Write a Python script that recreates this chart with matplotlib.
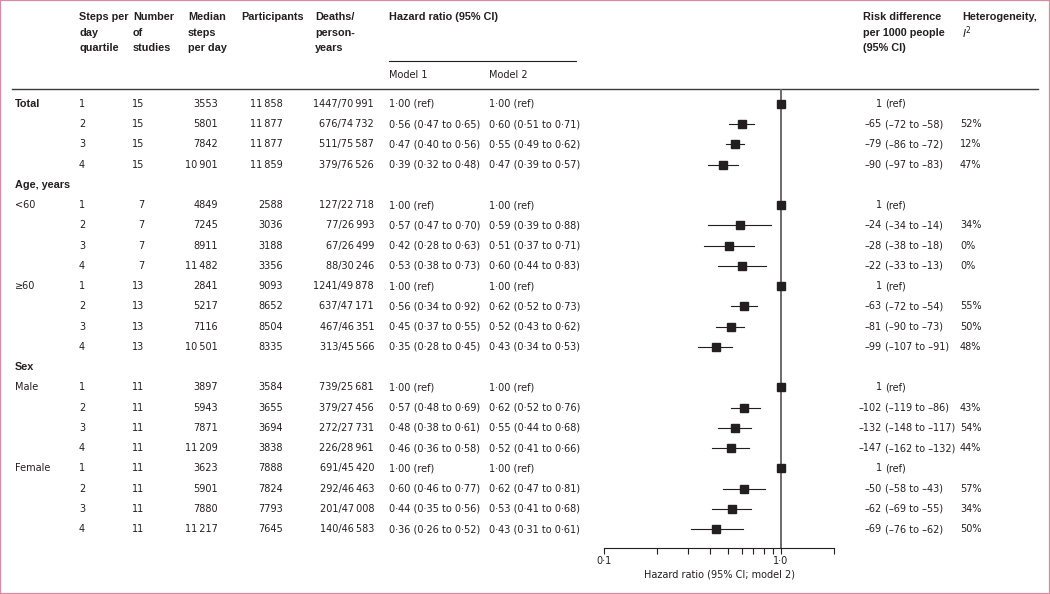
import matplotlib.pyplot as plt
import numpy as np
from matplotlib.patches import Rectangle
from matplotlib.ticker import NullFormatter

plt.rcParams['font.family'] = 'DejaVu Sans'
plt.rcParams['font.size'] = 7
ink = '#231f20'
nan = np.nan

# ---- data ----
subgroups = ["Total", "<60", "\u226560", "Male", "Female"]
sections = ["", "Age, years", "", "Sex", ""]
quartiles = [1, 2, 3, 4]
n_studies = [15, 7, 13, 11, 11]
median_steps = [[3553, 5801, 7842, 10901],
                [4849, 7245, 8911, 11482],
                [2841, 5217, 7116, 10501],
                [3897, 5943, 7871, 11209],
                [3623, 5901, 7880, 11217]]
participants = [[11858, 11877, 11877, 11859],
                [2588, 3036, 3188, 3356],
                [9093, 8652, 8504, 8335],
                [3584, 3655, 3694, 3838],
                [7888, 7824, 7793, 7645]]
deaths = [[1447, 676, 511, 379],
          [127, 77, 67, 88],
          [1241, 637, 467, 313],
          [739, 379, 272, 226],
          [691, 292, 201, 140]]
person_years = [[70991, 74732, 75587, 76526],
                [22718, 26993, 26499, 30246],
                [49878, 47171, 46351, 45566],
                [25681, 27456, 27731, 28961],
                [45420, 46463, 47008, 46583]]
# model 1 hazard ratios
hr1 = [[1.00, 0.56, 0.47, 0.39],
       [1.00, 0.57, 0.42, 0.53],
       [1.00, 0.56, 0.45, 0.35],
       [1.00, 0.57, 0.48, 0.46],
       [1.00, 0.60, 0.44, 0.36]]
hr1_lo = [[nan, 0.47, 0.40, 0.32],
          [nan, 0.47, 0.28, 0.38],
          [nan, 0.34, 0.37, 0.28],
          [nan, 0.48, 0.38, 0.36],
          [nan, 0.46, 0.35, 0.26]]
hr1_hi = [[nan, 0.65, 0.56, 0.48],
          [nan, 0.70, 0.63, 0.73],
          [nan, 0.92, 0.55, 0.45],
          [nan, 0.69, 0.61, 0.58],
          [nan, 0.77, 0.56, 0.52]]
# model 2 hazard ratios (plotted)
hr2 = [[1.00, 0.60, 0.55, 0.47],
       [1.00, 0.59, 0.51, 0.60],
       [1.00, 0.62, 0.52, 0.43],
       [1.00, 0.62, 0.55, 0.52],
       [1.00, 0.62, 0.53, 0.43]]
hr2_lo = [[nan, 0.51, 0.49, 0.39],
          [nan, 0.39, 0.37, 0.44],
          [nan, 0.52, 0.43, 0.34],
          [nan, 0.52, 0.44, 0.41],
          [nan, 0.47, 0.41, 0.31]]
hr2_hi = [[nan, 0.71, 0.62, 0.57],
          [nan, 0.88, 0.71, 0.83],
          [nan, 0.73, 0.62, 0.53],
          [nan, 0.76, 0.68, 0.66],
          [nan, 0.81, 0.68, 0.61]]
# risk difference per 1000 people
rd = [[1, -65, -79, -90],
      [1, -24, -28, -22],
      [1, -63, -81, -99],
      [1, -102, -132, -147],
      [1, -50, -62, -69]]
rd_lo = [[None, -72, -86, -97],
         [None, -34, -38, -33],
         [None, -72, -90, -107],
         [None, -119, -148, -162],
         [None, -58, -69, -76]]
rd_hi = [[None, -58, -72, -83],
         [None, -14, -18, -13],
         [None, -54, -73, -91],
         [None, -86, -117, -132],
         [None, -43, -55, -62]]
i2 = [[None, 52, 12, 47],
      [None, 34, 0, 0],
      [None, 55, 50, 48],
      [None, 43, 54, 44],
      [None, 57, 34, 50]]


def num(n):
    s = str(n)
    return s if len(s) < 5 else s[:-3] + '\u2009' + s[-3:]


def dec(v):
    return f"{v:.2f}".replace('.', '\u00b7')


def hr_text(v, lo, hi):
    if np.isnan(lo):
        return dec(v) + " (ref)"
    return f"{dec(v)} ({dec(lo)} to {dec(hi)})"


def neg(n):
    return str(n).replace('-', '\u2013')


fig = plt.figure(figsize=(10.5, 5.94), dpi=100)
tab = fig.add_axes([0, 0, 1, 1])
tab.set_xlim(0, 1050)
tab.set_ylim(594, 0)
tab.axis('off')

fst = fig.add_axes([604 / 1050, (594 - 548) / 594, 230 / 1050, (548 - 89) / 594])
fst.patch.set_alpha(0)
fst.set_xscale('log')
fst.set_xlim(0.1, 2.0)
fst.set_ylim(548, 89)

# headers
hfont = dict(family='Liberation Sans', weight='bold', fontsize=7.8, color=ink)
headers = [(79, ["Steps per", "day", "quartile"]),
           (133, ["Number", "of", "studies"]),
           (188, ["Median", "steps", "per day"]),
           (241, ["Participants"]),
           (315, ["Deaths/", "person-", "years"]),
           (389, ["Hazard ratio (95% CI)"]),
           (863, ["Risk difference", "per 1000 people", "(95% CI)"]),
           (962, ["Heterogeneity,", "$I^2$"])]
for x, lines in headers:
    for k, t in enumerate(lines):
        tab.text(x, 17 + 15.5 * k, t, ha='left', va='center', **hfont)
tab.text(389, 75, "Model 1", ha='left', va='center', color=ink)
tab.text(489, 75, "Model 2", ha='left', va='center', color=ink)
tab.plot([389, 576], [61, 61], color=ink, lw=0.8)
tab.plot([12, 1038], [89, 89], color='#3a3a3a', lw=1.0)

# rows
y0, dy = 104, 20.24
row = 0
for g, name in enumerate(subgroups):
    if sections[g]:
        tab.text(15, y0 + row * dy, sections[g], ha='left', va='center', **hfont)
        row += 1
    for q in range(4):
        y = y0 + row * dy
        if q == 0:
            if g == 0:
                tab.text(15, y, name, ha='left', va='center', **hfont)
            else:
                tab.text(15, y, name, ha='left', va='center', color=ink)
        tab.text(79, y, str(quartiles[q]), ha='left', va='center', color=ink)
        tab.text(144, y, str(n_studies[g]), ha='right', va='center', color=ink)
        tab.text(218, y, num(median_steps[g][q]), ha='right', va='center', color=ink)
        tab.text(283, y, num(participants[g][q]), ha='right', va='center', color=ink)
        tab.text(374, y, f"{num(deaths[g][q])}/{num(person_years[g][q])}",
                 ha='right', va='center', color=ink)
        tab.text(389, y, hr_text(hr1[g][q], hr1_lo[g][q], hr1_hi[g][q]),
                 ha='left', va='center', color=ink)
        tab.text(489, y, hr_text(hr2[g][q], hr2_lo[g][q], hr2_hi[g][q]),
                 ha='left', va='center', color=ink)
        tab.text(882, y, neg(rd[g][q]), ha='right', va='center', color=ink)
        if rd_lo[g][q] is None:
            ci = "(ref)"
        else:
            ci = f"({neg(rd_lo[g][q])} to {neg(rd_hi[g][q])})"
        tab.text(885, y, ci, ha='left', va='center', color=ink)
        if i2[g][q] is not None:
            tab.text(960, y, f"{i2[g][q]}%", ha='left', va='center', color=ink)

        # forest marks
        if not np.isnan(hr2_lo[g][q]):
            fst.plot([hr2_lo[g][q], hr2_hi[g][q]], [y, y], color=ink, lw=0.8)
        fst.plot(hr2[g][q], y, 's', ms=6.4, color=ink, mec=ink)
        row += 1

fst.axvline(1.0, color='#6b6b6b', lw=1.4, zorder=0)
for s in ['left', 'top', 'right']:
    fst.spines[s].set_visible(False)
fst.spines['bottom'].set_color(ink)
fst.spines['bottom'].set_linewidth(0.8)
fst.set_yticks([])
fst.set_xticks([0.1, 1.0])
fst.set_xticklabels(["0\u00b71", "1\u00b70"])
fst.set_xticks([0.2, 0.3, 0.4, 0.5, 0.6, 0.7, 0.8, 0.9, 2.0], minor=True)
fst.xaxis.set_minor_formatter(NullFormatter())
fst.tick_params(axis='x', which='both', direction='out', length=4, width=0.8,
                color=ink, labelcolor=ink, pad=1.5, labelsize=7)
fst.set_xlabel("Hazard ratio (95% CI; model 2)", color=ink, fontsize=7, labelpad=3)

fig.patches.append(Rectangle((0, 0), 1, 1, transform=fig.transFigure, fill=False,
                             edgecolor='#d98aa2', lw=1.6))

fig.savefig('out.png', dpi=100)
